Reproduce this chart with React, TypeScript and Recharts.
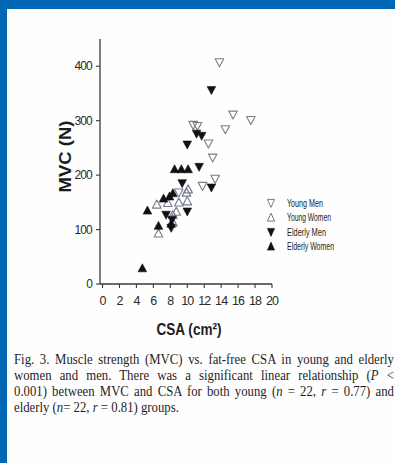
import React from 'react';
import { ScatterChart, Scatter, XAxis, YAxis, Label } from 'recharts';

// MVC (N) against fat-free CSA (cm²), one list per group
const youngMen = [
  { csa: 13.8, mvc: 407 },
  { csa: 15.4, mvc: 311 },
  { csa: 17.5, mvc: 301 },
  { csa: 14.5, mvc: 284 },
  { csa: 10.7, mvc: 292 },
  { csa: 11.2, mvc: 290 },
  { csa: 12.5, mvc: 258 },
  { csa: 13.0, mvc: 232 },
  { csa: 13.3, mvc: 193 },
  { csa: 11.8, mvc: 180 },
  { csa: 9.0, mvc: 168 },
];

const youngWomen = [
  { csa: 6.4, mvc: 146 },
  { csa: 6.6, mvc: 93 },
  { csa: 7.7, mvc: 149 },
  { csa: 8.3, mvc: 113 },
  { csa: 8.3, mvc: 127 },
  { csa: 8.7, mvc: 133 },
  { csa: 9.0, mvc: 150 },
  { csa: 9.9, mvc: 168 },
  { csa: 10.0, mvc: 152 },
  { csa: 10.1, mvc: 174 },
];

const elderlyMen = [
  { csa: 12.85, mvc: 356 },
  { csa: 11.1, mvc: 276 },
  { csa: 11.7, mvc: 272 },
  { csa: 10.0, mvc: 256 },
  { csa: 11.4, mvc: 215 },
  { csa: 9.4, mvc: 185 },
  { csa: 12.85, mvc: 177 },
  { csa: 10.0, mvc: 133 },
  { csa: 7.5, mvc: 127 },
  { csa: 8.2, mvc: 118 },
  { csa: 8.1, mvc: 103 },
];

const elderlyWomen = [
  { csa: 4.7, mvc: 29 },
  { csa: 5.3, mvc: 135 },
  { csa: 6.6, mvc: 107 },
  { csa: 7.2, mvc: 157 },
  { csa: 7.9, mvc: 161 },
  { csa: 8.3, mvc: 167 },
  { csa: 8.5, mvc: 211 },
  { csa: 9.3, mvc: 211 },
  { csa: 10.1, mvc: 211 },
  { csa: 8.1, mvc: 111 },
];

const csaTicks = [0, 2, 4, 6, 8, 10, 12, 14, 16, 18, 20];
const mvcTicks = [0, 100, 200, 300, 400];

const groups = [
  { name: 'Young Men', data: youngMen, down: true, filled: false, color: '#7c7c84' },
  { name: 'Young Women', data: youngWomen, down: false, filled: false, color: '#767a90' },
  { name: 'Elderly Men', data: elderlyMen, down: true, filled: true, color: '#111' },
  { name: 'Elderly Women', data: elderlyWomen, down: false, filled: true, color: '#111' },
];
const legendWidths = [36, 44, 39, 47];

const captionLines: Array<Array<[string, boolean]>> = [
  [['Fig. 3.  Muscle strength (MVC) vs. fat-free CSA in young and elderly', false]],
  [['women and men. There was a significant linear relationship (', false], ['P', true], [' <', false]],
  [
    ['0.001) between MVC and CSA for both young (', false], ['n', true], [' = 22, ', false],
    ['r', true], [' = 0.77) and', false],
  ],
  [['elderly (', false], ['n', true], ['= 22, ', false], ['r', true], [' = 0.81) groups.', false]],
];

const sans = '"Liberation Sans", Arial, sans-serif';
const serif = '"Liberation Serif", "Times New Roman", serif';
const axisColor = '#3a3a3a';

const trianglePoints = (cx: number, cy: number, down: boolean, w = 4.3) =>
  down
    ? `${cx - w},${cy - 3.6} ${cx + w},${cy - 3.6} ${cx},${cy + 4.4}`
    : `${cx - w},${cy + 3.6} ${cx + w},${cy + 3.6} ${cx},${cy - 4.4}`;

const Marker = ({ cx, cy, down, filled, color }: any) => {
  if (cx == null || cy == null) return null;
  return (
    <polygon
      points={trianglePoints(cx, cy, down)}
      fill={filled ? color : 'none'}
      stroke={color}
      strokeWidth={filled ? 0.6 : 1.1}
      strokeLinejoin="round"
    />
  );
};

const CsaTick = ({ x, y, payload }: any) => (
  <text x={x} y={y} dy={15} textAnchor="middle" fontSize={12.5} letterSpacing={-0.9} fontFamily={sans} fill="#2a2a2a">
    {payload.value}
  </text>
);

const MvcTick = ({ x, y, payload }: any) => (
  <text x={x - 2} y={y} dy={4} textAnchor="end" fontSize={12} letterSpacing={-0.8} fontFamily={sans} fill="#2a2a2a">
    {payload.value}
  </text>
);

export default function App() {
  return (
    <div style={{ position: 'absolute', left: 0, top: 0, width: 395, height: 463, background: '#0067b4', overflow: 'hidden' }}>
      <div style={{ position: 'absolute', left: 7, top: 9, right: 0, bottom: 0, background: '#fefefe' }} />
      <div style={{ position: 'absolute', left: 0, top: 0 }}>
        <ScatterChart width={395} height={340} margin={{ top: 39, right: 123, bottom: 26, left: 60 }}>
          <XAxis
            type="number"
            dataKey="csa"
            domain={[-0.3, 20]}
            ticks={csaTicks}
            interval={0}
            height={30}
            tickSize={4}
            tickMargin={2}
            tick={<CsaTick />}
            axisLine={{ stroke: axisColor, strokeWidth: 1.3 }}
            tickLine={{ stroke: axisColor, strokeWidth: 1.1 }}
          >
            <Label
              content={({ viewBox }: any) => (
                <text
                  x={viewBox.x + viewBox.width / 2 + 3}
                  y={viewBox.y + 51}
                  textAnchor="middle"
                  fontSize={16}
                  fontWeight="bold"
                  fontFamily={sans}
                  fill="#1c1c1c"
                  textLength={65}
                  lengthAdjust="spacingAndGlyphs"
                >
                  CSA (cm²)
                </text>
              )}
            />
          </XAxis>
          <YAxis
            type="number"
            dataKey="mvc"
            domain={[0, 450]}
            ticks={mvcTicks}
            interval={0}
            width={40}
            tickSize={4}
            tickMargin={2}
            tick={<MvcTick />}
            axisLine={{ stroke: axisColor, strokeWidth: 1.3 }}
            tickLine={{ stroke: axisColor, strokeWidth: 1.1 }}
          >
            <Label
              content={({ viewBox }: any) => {
                const lx = viewBox.x + viewBox.width - 29;
                const ly = viewBox.y + viewBox.height / 2 - 5;
                return (
                  <text
                    x={lx}
                    y={ly}
                    transform={`rotate(-90 ${lx} ${ly})`}
                    textAnchor="middle"
                    fontSize={17}
                    fontWeight="bold"
                    fontFamily={sans}
                    fill="#1c1c1c"
                    textLength={72}
                    lengthAdjust="spacingAndGlyphs"
                  >
                    MVC (N)
                  </text>
                );
              }}
            />
          </YAxis>
          {groups.map((g) => (
            <Scatter
              key={g.name}
              name={g.name}
              data={g.data}
              isAnimationActive={false}
              shape={(p: any) => <Marker {...p} down={g.down} filled={g.filled} color={g.color} />}
            />
          ))}
        </ScatterChart>
      </div>

      {/* group key */}
      <svg width={100} height={62} style={{ position: 'absolute', left: 262, top: 196 }}>
        {groups.map((g, i) => {
          const cy = 7 + i * 14.5;
          return (
            <g key={g.name}>
              <polygon
                points={trianglePoints(9, cy, g.down, 3.6)}
                fill={g.filled ? g.color : 'none'}
                stroke={g.color}
                strokeWidth={g.filled ? 0.6 : 1}
              />
              <text
                x={25}
                y={cy + 3.5}
                fontSize={10}
                fontFamily={sans}
                fill="#222"
                textLength={legendWidths[i]}
                lengthAdjust="spacingAndGlyphs"
              >
                {g.name}
              </text>
            </g>
          );
        })}
      </svg>

      {/* figure caption */}
      <div style={{ position: 'absolute', left: 14, top: 351, fontFamily: serif, fontSize: 15, lineHeight: '16.1px', color: '#1e1e1e' }}>
        {captionLines.map((parts, i) => {
          const last = i === captionLines.length - 1;
          return (
            <div
              key={i}
              style={{
                width: 447,
                transform: 'scaleX(0.85)',
                transformOrigin: '0 0',
                whiteSpace: last ? 'nowrap' : 'normal',
                textAlign: last ? 'left' : 'justify',
                textAlignLast: last ? 'left' : 'justify',
              }}
            >
              {parts.map(([t, it], j) => (
                <span key={j} style={{ fontStyle: it ? 'italic' : 'normal' }}>
                  {t}
                </span>
              ))}
            </div>
          );
        })}
      </div>
    </div>
  );
}
